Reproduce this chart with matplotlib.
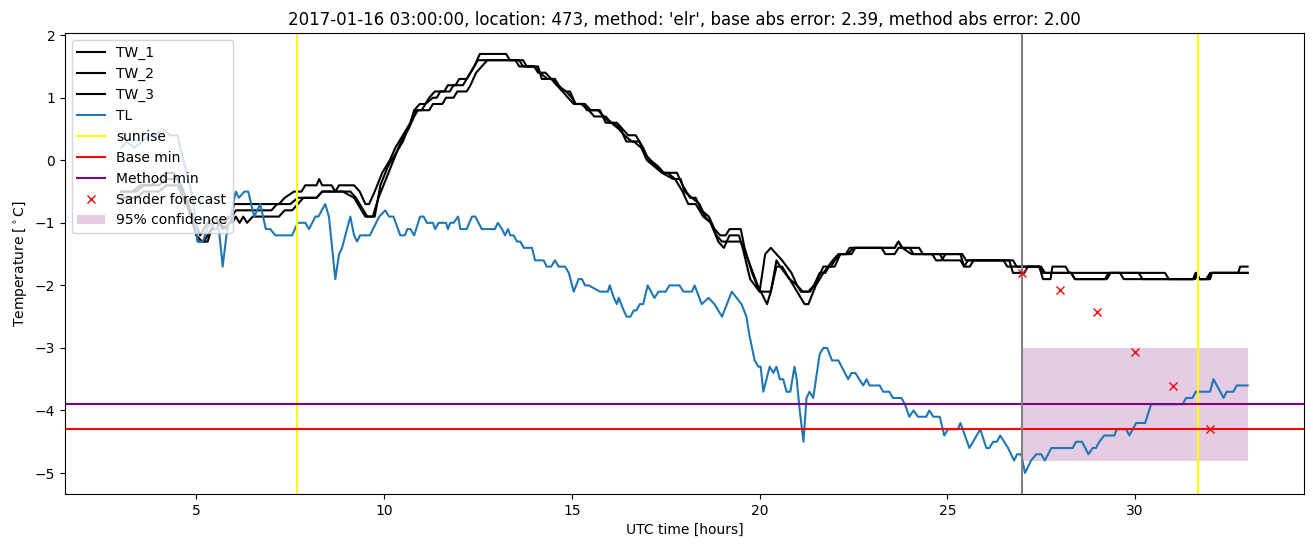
import matplotlib.pyplot as plt

# TEMPERATURE CHART: road sensors TW_1..3, air temperature TL and forecast

# TL (air temperature), hours since midnight of 2017-01-15
tl_hours = [3.0, 3.15, 3.35, 3.55, 3.75, 3.9, 4.1, 4.3, 4.5, 4.57, 4.7, 4.9, 5.03, 5.17,
            5.35, 5.5, 5.6, 5.7, 5.8, 6.05, 6.13, 6.28, 6.38, 6.54, 6.7, 6.85, 6.97, 7.1,
            7.2, 7.55, 7.7, 7.9, 8.0, 8.17, 8.25, 8.43, 8.53, 8.7, 8.8, 8.88, 9.1, 9.2,
            9.28, 9.36, 9.62, 9.87, 10.03, 10.13, 10.25, 10.43, 10.55, 10.62, 10.7, 10.8,
            10.96, 11.05, 11.14, 11.3, 11.36, 11.45, 11.65, 11.7, 11.76, 11.85, 11.97,
            12.03, 12.2, 12.34, 12.43, 12.6, 12.95, 13.03, 13.14, 13.22, 13.3, 13.36,
            13.45, 13.54, 13.63, 13.72, 13.94, 14.02, 14.25, 14.33, 14.45, 14.55, 14.65,
            14.82, 14.92, 15.05, 15.18, 15.27, 15.35, 15.45, 15.75, 15.96, 16.01, 16.12,
            16.2, 16.25, 16.38, 16.46, 16.56, 16.65, 16.72, 16.81, 16.9, 17.02, 17.2,
            17.31, 17.5, 17.6, 17.87, 17.97, 18.2, 18.27, 18.46, 18.64, 18.8, 19.0, 19.26,
            19.52, 19.65, 19.73, 19.87, 19.97, 20.03, 20.1, 20.27, 20.37, 20.45, 20.54,
            20.63, 20.72, 20.82, 20.93, 20.99, 21.07, 21.17, 21.25, 21.33, 21.43, 21.6,
            21.7, 21.8, 21.93, 22.1, 22.36, 22.45, 22.55, 22.76, 22.85, 22.93, 23.2, 23.29,
            23.46, 23.55, 23.78, 23.87, 23.99, 24.1, 24.22, 24.44, 24.52, 24.63, 24.8,
            24.92, 25.02, 25.28, 25.35, 25.59, 25.88, 26.04, 26.12, 26.22, 26.32, 26.41,
            26.62, 26.78, 26.86, 26.97, 27.07, 27.23, 27.37, 27.5, 27.6, 27.77, 28.34,
            28.43, 28.59, 28.76, 28.87, 28.96, 29.05, 29.18, 29.45, 29.51, 29.76, 29.85,
            30.03, 30.27, 30.43, 31.27, 31.36, 31.53, 31.62, 32.0, 32.09, 32.36, 32.44,
            32.62, 32.71, 33.0]
tl_temp = [0.2, 0.3, 0.2, 0.3, 0.4, 0.4, 0.5, 0.4, 0.4, 0.2, -0.1, -0.6, -1.3, -1.3,
           -1.0, -1.1, -1.1, -1.7, -1.2, -0.5, -0.6, -0.5, -0.5, -0.9, -0.7, -1.1, -1.1, -1.2,
           -1.2, -1.2, -1.0, -1.0, -1.1, -0.9, -0.9, -0.7, -0.9, -1.9, -1.5, -1.4, -0.9, -1.2,
           -1.3, -1.2, -1.2, -0.9, -0.8, -0.9, -0.9, -1.2, -1.2, -1.1, -1.1, -1.2,
           -0.9, -0.9, -1.0, -1.0, -1.1, -1.0, -1.0, -1.1, -1.0, -1.0, -0.9,
           -1.1, -1.1, -0.9, -0.9, -1.1, -1.1, -1.0, -1.1, -1.2, -1.1, -1.2,
           -1.2, -1.3, -1.3, -1.4, -1.4, -1.6, -1.6, -1.7, -1.7, -1.6, -1.7,
           -1.7, -1.8, -2.1, -1.9, -1.9, -2.0, -2.0, -2.1, -2.1, -2.0, -2.2,
           -2.3, -2.2, -2.4, -2.5, -2.5, -2.4, -2.4, -2.3, -2.3, -2.0, -2.2,
           -2.1, -2.1, -2.0, -2.0, -2.1, -2.1, -2.0, -2.3, -2.2, -2.3, -2.5, -2.1,
           -2.3, -2.5, -2.8, -3.2, -3.3, -3.3, -3.7, -3.3, -3.4, -3.3, -3.5,
           -3.5, -3.7, -3.7, -3.3, -3.5, -4.0, -4.5, -3.8, -3.7, -3.8, -3.1,
           -3.0, -3.0, -3.2, -3.2, -3.5, -3.4, -3.4, -3.6, -3.5, -3.6, -3.6, -3.7,
           -3.7, -3.8, -3.8, -3.9, -4.1, -4.0, -4.1, -4.1, -4.0, -4.1, -4.1,
           -4.4, -4.3, -4.3, -4.2, -4.6, -4.3, -4.6, -4.6, -4.5, -4.5, -4.4,
           -4.6, -4.8, -4.7, -4.7, -5.0, -4.8, -4.7, -4.7, -4.8, -4.6, -4.6,
           -4.5, -4.5, -4.7, -4.6, -4.6, -4.5, -4.4, -4.4, -4.3, -4.3, -4.4,
           -4.2, -4.2, -3.9, -3.9, -3.8, -3.8, -3.7, -3.7, -3.5, -3.8, -3.7,
           -3.7, -3.6, -3.6]

# TW_1 (road temperature sensor 1)
tw1_hours = [3.0, 3.3, 3.5, 3.8, 4.0, 4.2, 4.4, 4.6, 4.9, 5.1, 5.3, 5.5, 5.7, 5.9, 6.0,
             7.2, 7.35, 7.6, 7.8, 7.9, 8.2, 8.27, 8.35, 8.6, 8.7, 8.8, 9.2, 9.35, 9.5,
             9.6, 9.75, 9.95, 10.15, 10.3, 10.5, 10.7, 10.8, 10.95, 11.1, 11.2, 11.35,
             11.6, 11.7, 11.9, 12.0, 12.2, 12.3, 12.4, 12.55, 13.25, 13.35, 13.6, 13.7,
             14.0, 14.15, 14.35, 14.55, 14.65, 14.8, 14.95, 15.1, 15.35, 15.5, 15.7,
             15.85, 16.0, 16.2, 16.35, 16.5, 16.7, 16.8, 16.95, 17.1, 17.3, 17.45, 17.8,
             17.95, 18.15, 18.3, 18.45, 18.65, 18.8, 18.95, 19.1, 19.2, 19.5, 19.6, 19.8,
             20.0, 20.15, 20.3, 20.45, 20.6, 20.85, 21.0, 21.1, 21.3, 21.45, 21.6, 21.75,
             21.85, 22.0, 22.15, 22.35, 22.5, 23.6, 23.7, 23.8, 24.25, 24.35, 25.4, 25.5,
             26.75, 26.85, 27.45, 27.55, 27.75, 27.8, 28.15, 28.25, 30.8, 30.9, 31.55,
             31.62, 31.7, 31.9, 32.0, 32.75, 32.8, 33.0]
tw1_temp = [-0.5, -0.5, -0.4, -0.4, -0.3, -0.2, -0.2, -0.4, -0.9, -1.2, -1.0, -0.9, -1.1, -1.0, -0.7,
            -0.7, -0.6, -0.5, -0.5, -0.4, -0.4, -0.3, -0.4, -0.4, -0.5, -0.4, -0.4, -0.5, -0.7,
            -0.7, -0.5, -0.2, 0.0, 0.2, 0.4, 0.6, 0.8, 0.9, 0.9, 1.0, 1.1,
            1.1, 1.2, 1.2, 1.3, 1.3, 1.4, 1.5, 1.7, 1.7, 1.6, 1.6, 1.5,
            1.5, 1.4, 1.3, 1.3, 1.2, 1.1, 1.1, 0.9, 0.9, 0.8, 0.8,
            0.7, 0.6, 0.6, 0.5, 0.4, 0.4, 0.3, 0.1, 0.0, -0.1, -0.2, -0.2,
            -0.4, -0.6, -0.6, -0.8, -0.9, -1.1, -1.2, -1.2, -1.1, -1.1, -1.4, -1.8,
            -2.1, -1.5, -1.4, -1.5, -1.6, -1.8, -2.0, -2.1, -2.1, -2.0, -1.8, -1.8,
            -1.7, -1.7, -1.5, -1.5, -1.4, -1.4, -1.3, -1.4, -1.4, -1.5, -1.5, -1.6,
            -1.6, -1.7, -1.7, -1.9, -1.9, -1.7, -1.7, -1.8, -1.8, -1.9, -1.9,
            -1.8, -1.9, -1.9, -1.8, -1.8, -1.7, -1.7]

# TW_2 (road temperature sensor 2)
tw2_hours = [3.0, 3.4, 3.6, 4.0, 4.2, 4.5, 4.7, 5.0, 5.15, 5.3, 5.45, 5.6, 5.8, 5.95, 6.05,
             7.0, 7.15, 7.5, 7.7, 8.2, 8.35, 9.1, 9.25, 9.45, 9.55, 9.7, 9.85, 10.05,
             10.25, 10.45, 10.65, 10.8, 10.9, 11.2, 11.3, 11.55, 11.65, 11.85, 11.95,
             12.2, 12.3, 12.45, 12.6, 12.75, 13.5, 13.6, 14.1, 14.2, 14.5, 14.6, 14.75,
             14.9, 15.05, 15.3, 15.4, 15.75, 15.9, 16.1, 16.3, 16.45, 16.65, 16.85, 17.0,
             17.2, 17.4, 17.55, 17.75, 17.95, 18.1, 18.3, 18.5, 18.7, 18.85, 19.0, 19.5,
             19.7, 19.95, 20.2, 20.3, 20.45, 20.55, 20.8, 21.0, 21.2, 21.3, 21.5, 21.7,
             21.95, 22.1, 22.45, 22.55, 23.25, 23.35, 23.6, 23.7, 24.0, 24.1, 24.8, 24.9,
             25.35, 25.45, 25.55, 26.65, 26.75, 27.05, 27.15, 27.5, 27.6, 28.3, 28.4,
             29.2, 29.3, 29.6, 29.7, 31.6, 31.65, 31.72, 31.95, 32.05, 33.0]
tw2_temp = [-0.5, -0.5, -0.4, -0.4, -0.3, -0.3, -0.6, -1.2, -1.3, -1.3, -1.0, -1.0, -1.1, -0.9, -0.8,
            -0.8, -0.7, -0.7, -0.6, -0.6, -0.5, -0.5, -0.6, -0.8, -0.9, -0.9, -0.6, -0.3,
            0.0, 0.3, 0.5, 0.7, 0.8, 0.8, 0.9, 0.9, 1.0, 1.0, 1.1,
            1.1, 1.2, 1.4, 1.5, 1.6, 1.6, 1.5, 1.5, 1.3, 1.3, 1.2, 1.1,
            1.0, 0.9, 0.9, 0.8, 0.8, 0.6, 0.6, 0.5, 0.3, 0.3, 0.2, 0.0,
            -0.1, -0.2, -0.2, -0.3, -0.5, -0.7, -0.7, -0.9, -1.0, -1.2, -1.3, -1.3,
            -1.6, -2.0, -2.3, -2.1, -1.6, -1.7, -1.9, -2.1, -2.3, -2.3, -2.0, -1.8,
            -1.6, -1.5, -1.5, -1.4, -1.4, -1.5, -1.5, -1.4, -1.4, -1.5, -1.5, -1.6,
            -1.6, -1.7, -1.6, -1.6, -1.8, -1.8, -1.7, -1.7, -1.8, -1.8, -1.9,
            -1.9, -1.8, -1.8, -1.9, -1.9, -1.8, -1.9, -1.9, -1.8, -1.8]

# TW_3 (road temperature sensor 3)
tw3_hours = [3.0, 3.4, 3.6, 4.0, 4.2, 4.5, 4.8, 5.05, 5.2, 5.4, 5.55, 5.65, 5.75, 5.85, 5.95,
             6.05, 6.15, 6.25, 6.35, 6.5, 7.2, 7.35, 7.55, 7.7, 7.85, 8.2, 8.35, 8.9, 9.2,
             9.4, 9.5, 9.75, 9.9, 10.1, 10.3, 10.5, 10.7, 10.85, 11.0, 11.1, 11.3, 11.4,
             11.5, 11.75, 11.85, 12.1, 12.2, 12.4, 12.5, 13.7, 13.8, 14.0, 14.1, 14.3,
             14.45, 14.6, 14.85, 15.0, 15.1, 15.25, 15.45, 15.6, 15.9, 16.05, 16.25, 16.4,
             16.6, 16.8, 16.9, 17.05, 17.25, 17.4, 17.7, 17.9, 18.0, 18.2, 18.4, 18.55,
             18.7, 18.9, 19.05, 19.2, 19.45, 19.55, 19.75, 20.0, 20.3, 20.45, 20.6, 20.8,
             21.0, 21.15, 21.35, 21.55, 21.7, 21.9, 22.0, 22.15, 22.3, 22.4, 23.6, 23.7,
             23.8, 24.05, 24.6, 24.7, 24.85, 24.95, 25.35, 25.45, 25.6, 25.7, 26.5, 26.6,
             27.45, 27.55, 28.3, 28.4, 29.25, 29.35, 30.1, 30.2, 31.55, 31.62, 31.68,
             32.0, 32.05, 33.0]
tw3_temp = [-0.6, -0.6, -0.5, -0.5, -0.4, -0.4, -0.8, -1.3, -1.3, -1.1, -1.1, -0.9, -1.0, -0.9, -1.0,
            -0.9, -1.0, -0.9, -1.0, -0.9, -0.9, -0.8, -0.8, -0.7, -0.6, -0.6, -0.5, -0.5, -0.6,
            -0.8, -0.9, -0.9, -0.4, -0.1, 0.1, 0.3, 0.6, 0.8, 0.8, 0.9, 1.0, 1.0,
            1.1, 1.1, 1.2, 1.2, 1.3, 1.5, 1.6, 1.6, 1.5, 1.5, 1.4, 1.4,
            1.3, 1.2, 1.1, 1.0, 0.9, 0.9, 0.8, 0.7, 0.7, 0.6, 0.5, 0.4,
            0.3, 0.3, 0.2, 0.0, -0.1, -0.2, -0.3, -0.3, -0.5, -0.6, -0.7, -0.9,
            -1.0, -1.3, -1.4, -1.2, -1.2, -1.4, -1.9, -2.1, -2.1, -1.7, -1.7, -1.9,
            -2.0, -2.1, -2.1, -1.9, -1.7, -1.7, -1.6, -1.5, -1.5, -1.4, -1.4, -1.3,
            -1.4, -1.5, -1.5, -1.6, -1.6, -1.5, -1.5, -1.7, -1.7, -1.6, -1.6, -1.7,
            -1.7, -1.8, -1.8, -1.9, -1.9, -1.8, -1.8, -1.9, -1.9, -1.8, -1.9,
            -1.9, -1.8, -1.8]

# sunrise times, observed minima and the forecast
sunrise = [7.67, 31.67]
base_min = -4.3
method_min = -3.9
forecast_start = 27
fc_hours = [27, 28, 29, 30, 31, 32]
fc_temp = [-1.8, -2.08, -2.43, -3.07, -3.61, -4.3]
conf_hours = [27, 33]
conf_low = -4.8
conf_high = -3.0

fig, ax = plt.subplots(figsize=(13.13, 5.47), dpi=100)
fig.subplots_adjust(left=0.0495, right=0.9931, top=0.9397, bottom=0.0969)

ax.plot(tw1_hours, tw1_temp, c='k', label='TW_1')
ax.plot(tw2_hours, tw2_temp, c='k', label='TW_2')
ax.plot(tw3_hours, tw3_temp, c='k', label='TW_3')
ax.plot(tl_hours, tl_temp, c='tab:blue', label='TL')

ax.axvline(sunrise[0], c='yellow', label='sunrise')
ax.axvline(sunrise[1], c='yellow')
ax.axhline(base_min, c='r', label='Base min')
ax.axhline(method_min, c='purple', label='Method min')
ax.axvline(forecast_start, c='gray')

ax.plot(fc_hours, fc_temp, 'rx', label='Sander forecast')
ax.fill_between(conf_hours, conf_low, conf_high, color='purple', alpha=0.2,
                linewidth=0, label='95% confidence')

ax.set_xlabel('UTC time [hours]')
ax.set_ylabel(r'Temperature [$^\circ$C]')
ax.set_title("2017-01-16 03:00:00, location: 473, method: 'elr', "
             "base abs error: 2.39, method abs error: 2.00")
ax.legend(loc='upper left')

fig.savefig('out.png', dpi=100)
